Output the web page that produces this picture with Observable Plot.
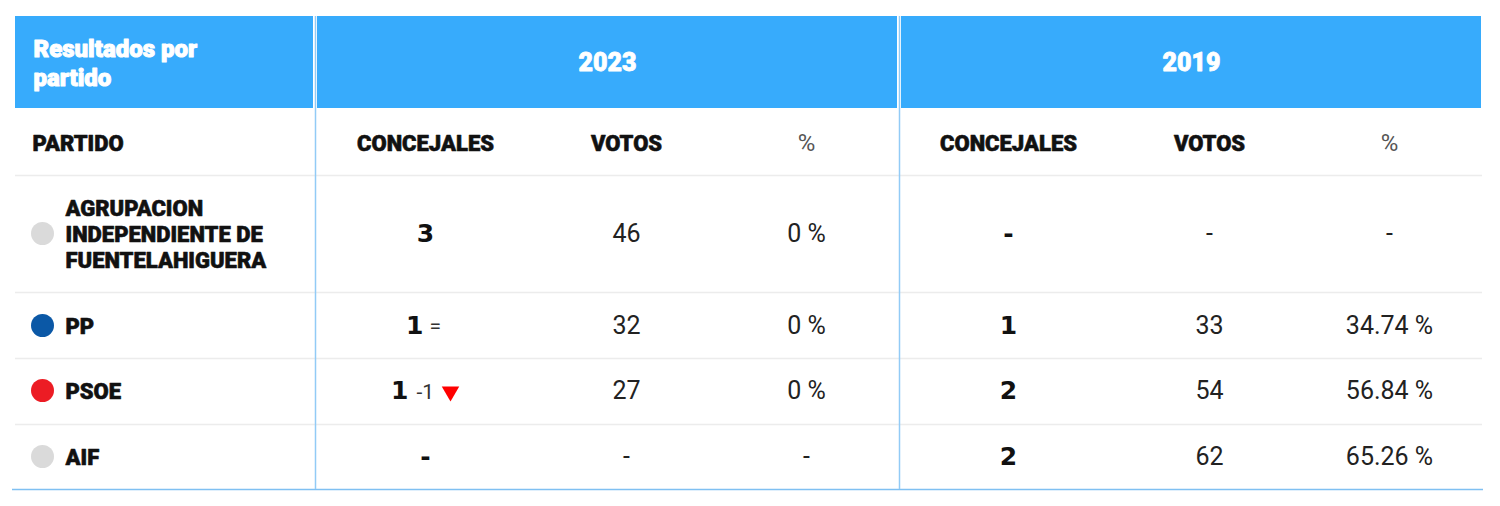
<!DOCTYPE html>
<html><head><meta charset="utf-8">
<script src="https://cdn.jsdelivr.net/npm/d3@7"></script>
<script src="https://cdn.jsdelivr.net/npm/@observablehq/plot@0.6"></script>
<style>body{margin:0;background:#fff} svg{display:block}</style>
</head><body><div id="chart"></div>
<script>
// ---------- data ----------
const title = "Resultados por partido";
const years = ["2023", "2019"];
const columnLabels = ["CONCEJALES", "VOTOS", "%"];
const partyHeader = "PARTIDO";
const parties = ["AGRUPACION INDEPENDIENTE DE FUENTELAHIGUERA", "PP", "PSOE", "AIF"];
const partyColors = ["#dadada", "#0b58a6", "#ec1c24", "#dadada"];
const concejales2023 = [3, 1, 1, null];
const cambio2023 = [null, 0, -1, null];
const votos2023 = [46, 32, 27, null];
const pct2023 = [0, 0, 0, null];
const concejales2019 = [null, 1, 2, 2];
const votos2019 = [null, 33, 54, 62];
const pct2019 = [null, 34.74, 56.84, 65.26];

// ---------- layout (pixels) ----------
const L = {
  left: 15, right: 1482, headTop: 16, headBottom: 108,
  titleCell: [15, 313], groups: [[317, 897], [901, 1481]],
  dividers: [315, 899], groupStarts: [316, 899],
  colOffsets: [109, 310, 490],
  titleX: 33, titleY: 62, partyText: 32, dotX: 42, nameX: 65,
  colHeadY: 143, colHeadLine: 175,
  rowCenters: [233, 325, 390, 456], rowLines: [292, 358, 424], bottom: 489
};

const BOLD = "Roboto, 'Liberation Sans', sans-serif";
const NUM = "Roboto, 'Liberation Sans', sans-serif";
const BIGNUM = "'DejaVu Sans', Roboto, sans-serif";

const fmtPct = v => v == null ? "-" : (Math.round(v * 100) / 100) + " %";
const fmtNum = v => v == null ? "-" : String(v);

const headCells = [{x1: L.titleCell[0], x2: L.titleCell[1]},
  ...years.map((y, i) => ({x1: L.groups[i][0], x2: L.groups[i][1], year: y}))];
const yearLabels = years.map((y, i) => ({x: (L.groups[i][0] + L.groups[i][1]) / 2, y: L.titleY, text: y}));

const colHeads = [];
years.forEach((y, g) => columnLabels.forEach((c, j) =>
  colHeads.push({x: L.groupStarts[g] + L.colOffsets[j], text: c, pct: c === "%"})));

const rows = parties.map((p, i) => ({
  party: p, color: partyColors[i], y: L.rowCenters[i],
  c23: concejales2023[i], ch23: cambio2023[i], v23: votos2023[i], p23: pct2023[i],
  c19: concejales2019[i], v19: votos2019[i], p19: pct2019[i]
}));

const colX = (g, j) => L.groupStarts[g] + L.colOffsets[j];

const boldCells = [];
const plainCells = [];
rows.forEach(r => {
  let kind = "plain";
  if (r.ch23 === 0) kind = "eq";
  else if (r.ch23 != null && r.ch23 < 0) kind = "down";
  boldCells.push({x: colX(0, 0), y: r.y, text: fmtNum(r.c23), kind});
  boldCells.push({x: colX(1, 0), y: r.y, text: fmtNum(r.c19), kind: "plain"});
  plainCells.push({x: colX(0, 1), y: r.y, text: fmtNum(r.v23)});
  plainCells.push({x: colX(0, 2), y: r.y, text: fmtPct(r.p23)});
  plainCells.push({x: colX(1, 1), y: r.y, text: fmtNum(r.v19)});
  plainCells.push({x: colX(1, 2), y: r.y, text: fmtPct(r.p19)});
});
const changes = rows.filter(r => r.ch23 != null).map(r => ({
  x: colX(0, 0), y: r.y, text: r.ch23 === 0 ? "=" : String(r.ch23), down: r.ch23 < 0
}));
const arrows = changes.filter(c => c.down);

const chart = Plot.plot({
  width: 1500, height: 506,
  margin: 0,
  x: {type: "linear", domain: [0, 1500], range: [0, 1500], axis: null},
  y: {type: "linear", domain: [0, 506], range: [0, 506], axis: null},
  style: {background: "#fff"},
  marks: [
    Plot.rect(headCells, {x1: "x1", x2: "x2", y1: L.headTop, y2: L.headBottom, fill: "#37abfc"}),
    Plot.ruleY([L.colHeadLine, ...L.rowLines], {x1: L.left, x2: L.right, stroke: "#ececec", strokeWidth: 1.5}),
    Plot.ruleY([L.bottom], {x1: 12, x2: 1483, stroke: "#7fc0f2", strokeWidth: 1.5}),
    Plot.ruleX(L.dividers, {y1: L.headTop, y2: L.bottom, stroke: "#92cbf6", strokeWidth: 1.5}),
    // title
    Plot.text([title], {x: L.titleX, y: L.titleY, text: d => d, lineWidth: 9, lineHeight: 1.2,
      textAnchor: "start", fill: "#fff", stroke: "#fff", strokeWidth: 1, fontWeight: 900, fontSize: 24, fontFamily: BOLD}),
    // year labels
    Plot.text(yearLabels, {x: "x", y: "y", text: "text", fill: "#fff", stroke: "#fff", strokeWidth: 0.8,
      fontWeight: 900, fontSize: 25, fontFamily: BOLD}),
    // column headers
    Plot.text([partyHeader], {x: L.partyText, y: L.colHeadY, text: d => d, textAnchor: "start",
      fill: "#111", stroke: "#111", strokeWidth: 0.6, fontWeight: 900, fontSize: 22, fontFamily: BOLD}),
    Plot.text(colHeads.filter(d => !d.pct), {x: "x", y: L.colHeadY, text: "text",
      fill: "#111", stroke: "#111", strokeWidth: 0.6, fontWeight: 900, fontSize: 22, fontFamily: BOLD}),
    Plot.text(colHeads.filter(d => d.pct), {x: "x", y: L.colHeadY, text: "text",
      fill: "#555", fontWeight: 400, fontSize: 24, fontFamily: "'Liberation Sans Narrow', Roboto, sans-serif"}),
    // party dots
    Plot.dot(rows, {x: L.dotX, y: "y", r: 11.5, fill: "color"}),
    // party names
    Plot.text(rows, {x: L.nameX, y: "y", text: "party", textAnchor: "start", lineWidth: 12, lineHeight: 1.2,
      fill: "#111", stroke: "#111", strokeWidth: 0.6, fontWeight: 900, fontSize: 22, fontFamily: BOLD}),
    // bold concejales
    Plot.text(boldCells.filter(d => d.kind === "plain"), {x: "x", y: "y", text: "text", fill: "#111",
      fontWeight: 700, fontSize: 25, fontFamily: BIGNUM}),
    Plot.text(boldCells.filter(d => d.kind === "eq"), {x: "x", y: "y", text: "text", fill: "#111",
      textAnchor: "end", dx: -2, fontWeight: 700, fontSize: 25, fontFamily: BIGNUM}),
    Plot.text(boldCells.filter(d => d.kind === "down"), {x: "x", y: "y", text: "text", fill: "#111",
      textAnchor: "end", dx: -17, fontWeight: 700, fontSize: 25, fontFamily: BIGNUM}),
    // change indicators
    Plot.text(changes.filter(d => !d.down), {x: "x", y: "y", text: "text", textAnchor: "start", dx: 4, dy: 1,
      fill: "#333", fontSize: 21, fontFamily: NUM}),
    Plot.text(changes.filter(d => d.down), {x: "x", y: "y", text: "text", textAnchor: "start", dx: -9, dy: 2,
      fill: "#333", fontSize: 21, fontFamily: NUM}),
    Plot.dot(arrows, {x: "x", y: "y", dx: 25, dy: 1, symbol: "triangle", rotate: 180, r: 6.5, fill: "#f00", stroke: null}),
    // plain numbers
    Plot.text(plainCells, {x: "x", y: "y", text: "text", fill: "#222", fontWeight: 400, fontSize: 25, fontFamily: NUM})
  ]
});
document.getElementById("chart").append(chart);
</script>
</body></html>
